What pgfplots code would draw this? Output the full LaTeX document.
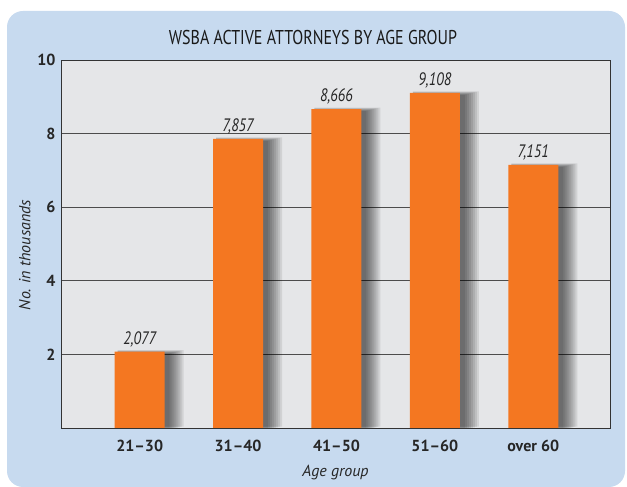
\documentclass[border=0pt]{standalone}
\usepackage{fontspec}
\setmainfont{PT Sans}
\newfontfamily\condfont[FakeStretch=0.8]{PT Sans}
\usepackage{pgfplots}
\pgfplotsset{compat=1.18}
\definecolor{bgblue}{HTML}{C7DAEF}
\definecolor{plotbg}{HTML}{E5E6E8}
\definecolor{barorange}{HTML}{F47721}
\pgfplotstableread{
x y lab
0 2.077 2{,}077
1 7.857 7{,}857
2 8.666 8{,}666
3 9.108 9{,}108
4 7.151 7{,}151
}\bardata
\pgfplotsset{shadowlayer/.style={fill=black, draw=none, fill opacity=0.085, bar width={50bp+2*#1 bp}, bar shift={(3+#1)*1bp}, yshift={(0.5*#1-2.5)*1bp}}}
\begin{document}
\begin{tikzpicture}
\useasboundingbox (0,0) rectangle (627bp,487bp);
\begin{scope}
\clip (0,0) rectangle (627bp,487bp);
\fill[bgblue, rounded corners=16bp] (7bp,0) rectangle (625bp,476bp);
\end{scope}
\node[font=\condfont\fontsize{20bp}{22bp}\selectfont, text=black!90] at (313bp,449bp) {WSBA ACTIVE ATTORNEYS BY AGE GROUP};
\begin{axis}[
  at={(61bp,59bp)}, anchor=south west,
  scale only axis, width=549bp, height=368bp,
  xmin=-0.8, xmax=4.78, ymin=0, ymax=10,
  axis background/.style={fill=plotbg},
  axis line style={draw=black!80, line width=0.9bp},
  ytick={2,4,6,8,10},
  xtick={0,1,2,3,4},
  xticklabels={21--30,31--40,41--50,51--60,over 60},
  major tick length=0pt,
  ymajorgrids, grid style={draw=black!70, line width=0.8bp},
  ticklabel style={font=\fontsize{16bp}{18bp}\selectfont\bfseries, text=black!85},
  /pgf/number format/assume math mode=true,
  yticklabel style={xshift=-2bp},
  xticklabel style={yshift=-9bp},
  ylabel={No. in thousands}, xlabel={Age group},
  label style={font=\fontsize{16bp}{18bp}\selectfont\itshape, text=black!85},
  xlabel style={yshift=-6bp},
  every axis y label/.append style={at={(ticklabel cs:0.47)}},
  ybar, bar width=50bp,
]
\addplot[shadowlayer=1] table[x=x,y=y] {\bardata};
\addplot[shadowlayer=2] table[x=x,y=y] {\bardata};
\addplot[shadowlayer=3] table[x=x,y=y] {\bardata};
\addplot[shadowlayer=4] table[x=x,y=y] {\bardata};
\addplot[shadowlayer=5] table[x=x,y=y] {\bardata};
\addplot[shadowlayer=6] table[x=x,y=y] {\bardata};
\addplot[shadowlayer=7] table[x=x,y=y] {\bardata};
\addplot[shadowlayer=8] table[x=x,y=y] {\bardata};
\addplot[fill=barorange, draw=none, bar shift=0pt,
  nodes near coords, point meta=explicit symbolic,
  every node near coord/.append style={font=\condfont\itshape\fontsize{18bp}{20bp}\selectfont, text=black!85, anchor=south, yshift=1bp}]
  table[x=x,y=y,meta=lab] {\bardata};
\end{axis}
\end{tikzpicture}
\end{document}
